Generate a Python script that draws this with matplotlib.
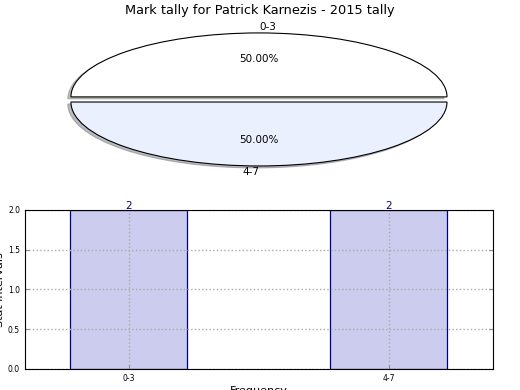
import matplotlib
matplotlib.use("Agg")
import matplotlib.pyplot as plt
import numpy as np

categories = ['0-3', '4-7']
counts = [2, 2]
pie_colors = ['white', '#eaf0fd']

fig = plt.figure(figsize=(5.2, 3.9), dpi=100)
fig.suptitle('Mark tally for Patrick Karnezis - 2015 tally', fontsize=9.3, y=0.99)

# pie (not equal aspect, so it is squashed)
ax1 = fig.add_axes([0.046, 0.54, 0.904, 0.41])
wedges, texts, autotexts = ax1.pie(counts, labels=categories, colors=pie_colors,
                                   explode=[0.04, 0.04], autopct='%1.2f%%',
                                   shadow={'ox': -0.012, 'oy': -0.022, 'shade': 0.5},
                                   wedgeprops={'edgecolor': 'black', 'linewidth': 0.8},
                                   textprops={'fontsize': 7.5})
texts[0].set_ha('left')
texts[1].set_ha('right')
ax1.set_aspect('auto')
ax1.set_xlim(-1.25, 1.25)
ax1.set_ylim(-1.25, 1.25)

# bar chart
ax2 = fig.add_axes([0.048, 0.054, 0.9, 0.408])
x = np.arange(len(categories))
bars = ax2.bar(x, counts, width=0.45, color='#ccccee', edgecolor='navy', linewidth=0.9)
for b, v in zip(bars, counts):
    ax2.text(b.get_x() + b.get_width() / 2, v - 0.01, str(v), ha='center', va='bottom',
             color='navy', fontsize=7.5)
ax2.set_xlim(-0.4, 1.4)
ax2.set_ylim(0, 2)
ax2.set_xticks(x)
ax2.set_xticklabels(categories)
ax2.set_yticks([0, 0.5, 1.0, 1.5, 2.0])
ax2.set_yticklabels(['0.0', '0.5', '1.0', '1.5', '2.0'])
ax2.tick_params(labelsize=5.5, direction='in', right=True, top=False, length=3, color='#888888')
ax2.grid(True, linestyle=':', color='#aaaaaa', linewidth=1)
ax2.set_axisbelow(False)
for sp in ax2.spines.values():
    sp.set_zorder(4)
ax2.set_xlabel('Frequency', fontsize=8, labelpad=2)
ax2.set_ylabel('Stat intervals', fontsize=8, labelpad=2)

fig.savefig('out.png', dpi=100)
